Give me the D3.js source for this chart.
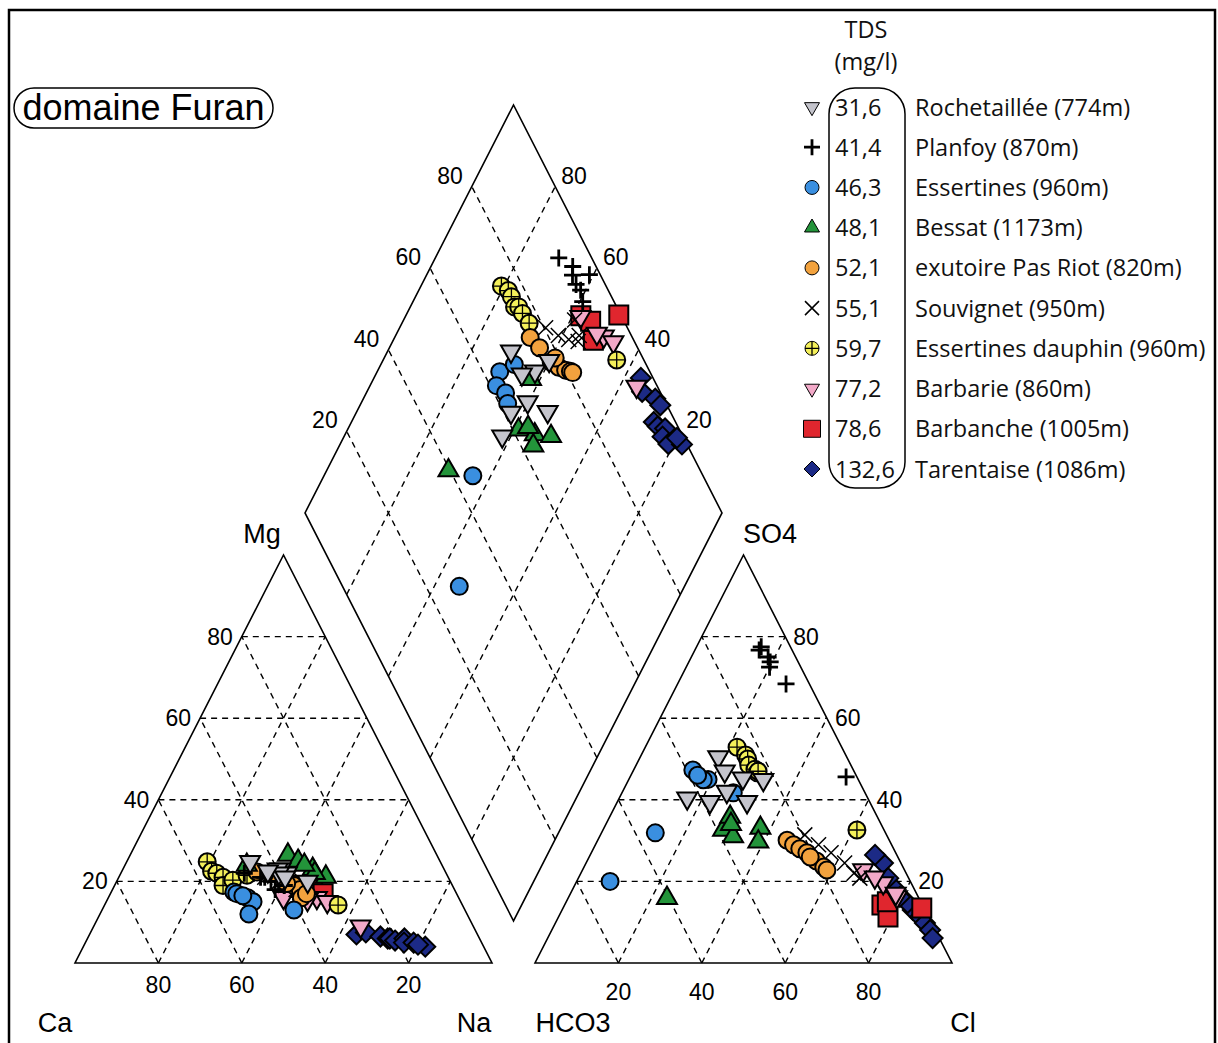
<!DOCTYPE html>
<html>
<head>
<meta charset="utf-8">
<script src="https://cdn.jsdelivr.net/npm/d3@7"></script>
<style>
  body { margin: 0; background: #fff; }
  svg { display: block; }
</style>
</head>
<body>
<svg id="chart" width="1218" height="1043"></svg>
<script>
// ---- Series (legend order) ----
const seriesNames = [
  "Rochetaillée (774m)", "Planfoy (870m)", "Essertines (960m)", "Bessat (1173m)",
  "exutoire Pas Riot (820m)", "Souvignet (950m)", "Essertines dauphin (960m)",
  "Barbarie (860m)", "Barbanche (1005m)", "Tarentaise (1086m)"
];
const tdsValues = ["31,6", "41,4", "46,3", "48,1", "52,1", "55,1", "59,7", "77,2", "78,6", "132,6"];
const symbolTypes = ["triangleDown", "plus", "circle", "triangle", "circle", "cross",
                     "crossCircle", "triangleDown", "square", "diamond"];
const fillColors = ["#c4c4cc", "none", "#3a8fe0", "#23943a", "#f2a23e", "none",
                    "#f4f05a", "#f2a9c8", "#e0262e", "#1c2a86"];

// ---- Samples: [Mg, Na, SO4, Cl] in % of meq (Ca = 100-Mg-Na, HCO3 = 100-SO4-Cl) ----
const rochetaillee = [
  [24.8, 29.6, 50.5, 18.7], [23, 37.8, 45.3, 27.2], [22, 39.8, 42, 25], [20, 45.8, 39.5, 31.1],
  [23, 37.1, 39.5, 22.2], [22, 37.9, 40.4, 16.3], [21, 39.9, 44.9, 32.3], [22.5, 35, 47, 22]
];
const planfoy = [
  [22, 29.6, 76.7, 15.4], [21, 35, 73.8, 19.5], [20, 38.8, 75, 18.4], [19, 40.7, 72.5, 20],
  [20, 37, 77.5, 15.5], [21, 34, 68.4, 26], [18, 39, 45.6, 51.8]
];
const essertines = [
  [17.4, 29.4, 45, 19], [17, 30.3, 47.3, 14.2], [16, 33.4, 44.9, 17.9], [15, 35.2, 46, 16],
  [16.5, 32, 41.7, 26.7], [12, 35.7, 31.9, 12.9], [13, 46, 20, 8]
];
const bessat = [
  [26.5, 37.8, 33.1, 37.5], [25, 41, 32.6, 28.8], [23, 45.5, 35.8, 28.9], [21.1, 49.6, 29.7, 38.7],
  [22, 46.5, 31, 32], [24, 43, 34, 30], [24, 29.2, 15.9, 23.7]
];
const pasRiot = [
  [22.3, 32.5, 30.1, 45.4], [22, 36, 29, 47.5], [20, 40.6, 28, 49.5], [19, 43, 27, 51.7],
  [18, 45, 25, 55], [16, 46.3, 23.5, 57.5], [17, 47, 22.8, 58.6], [19.5, 41, 26, 53]
];
const souvignet = [
  [21, 35, 31.4, 49], [20, 39, 29, 53.5], [19, 42, 27, 57.5], [20, 44.5, 24.5, 62],
  [18, 44, 22, 65.5], [19, 41, 20.8, 67.5]
];
const essertinesDauphin = [
  [24.8, 19.3, 52.9, 22], [22.5, 21.5, 51, 25], [22, 23, 50, 26], [21, 25, 48.5, 27],
  [19, 26, 47.5, 29], [20.3, 27.7, 46.6, 30], [21.5, 30.5, 47, 30], [14.2, 56, 32.6, 60.9]
];
const barbarie = [
  [16, 42, 22.8, 67.3], [16, 50, 19.6, 73.7], [15, 53, 16.2, 78.7], [15.5, 48, 21, 71], [9, 64, 17, 78]
];
const barbanche = [
  [19, 42, 14.2, 76.1], [18, 48, 11.3, 79], [17, 51, 13.5, 86], [18.5, 45, 15, 77]
];
const tarentaise = [
  [7, 64, 13, 84.1], [7.5, 66, 24.5, 71.2], [6.5, 70, 11.3, 86.7], [6, 72, 9.8, 88.6],
  [6, 72.5, 26.5, 68.3], [5.5, 74, 18.6, 76.6], [6, 76, 14.7, 82], [5, 76.4, 20.8, 74.3],
  [5, 78.7, 16.2, 79.4], [4, 82, 8.1, 90.7], [4.5, 80, 6.1, 92.3]
];
const seriesSamples = [rochetaillee, planfoy, essertines, bessat, pasRiot, souvignet,
                       essertinesDauphin, barbarie, barbanche, tarentaise];

// ---- Tick labels ----
const gridLevels = [20, 40, 60, 80];
const tickLabels = ["20", "40", "60", "80"];

// ---- Geometry ----
const side = 417, tall = 408, gap = 43, baseY = 963;
const catX0 = 75, anX0 = catX0 + side + gap;
const sx = d3.scaleLinear().domain([0, 100]).range([0, side]);
const sy = d3.scaleLinear().domain([0, 100]).range([0, tall]);
const dBottom = [catX0 + side + gap / 2, baseY - sy(0) - (gap / 2) * (tall / (side / 2))];

// Ternary projections
const catPt = (mg, na) => [catX0 + sx(na + mg / 2), baseY - sy(mg)];
const anPt = (so4, cl) => [anX0 + sx(cl + so4 / 2), baseY - sy(so4)];
const diaPt = (c, s) => [dBottom[0] + sx((s - c) / 2), dBottom[1] - sy(c + s)];

const svg = d3.select("#chart");
const FONT = "'Liberation Sans', Arial, sans-serif";
const LFONT = "'Open Sans', 'Noto Sans', sans-serif";

// frame
svg.append("rect").attr("x", 9).attr("y", 10).attr("width", 1206).attr("height", 1045)
  .attr("fill", "none").attr("stroke", "#000").attr("stroke-width", 2.5);

const grid = svg.append("g").attr("stroke", "#000").attr("stroke-width", 1.4)
  .attr("stroke-dasharray", "6,5").attr("fill", "none");
const line = d3.line();
function seg(a, b) { grid.append("path").attr("d", line([a, b])); }

// cation grid
gridLevels.forEach(v => {
  seg(catPt(v, 0), catPt(v, 100 - v));          // Mg
  seg(catPt(0, v), catPt(100 - v, v));          // Na
  seg(catPt(0, 100 - v), catPt(100 - v, 0));    // Ca
});
// anion grid
gridLevels.forEach(v => {
  seg(anPt(v, 0), anPt(v, 100 - v));            // SO4
  seg(anPt(0, v), anPt(100 - v, v));            // Cl
  seg(anPt(0, 100 - v), anPt(100 - v, 0));      // HCO3
});
// diamond grid
gridLevels.forEach(v => {
  seg(diaPt(v, 0), diaPt(v, 100));
  seg(diaPt(0, v), diaPt(100, v));
});

// outlines
const outline = svg.append("g").attr("stroke", "#000").attr("stroke-width", 1.6).attr("fill", "none");
outline.append("path").attr("d", line([catPt(0, 0), catPt(0, 100), catPt(100, 0)]) + "Z");
outline.append("path").attr("d", line([anPt(0, 0), anPt(0, 100), anPt(100, 0)]) + "Z");
outline.append("path").attr("d", line([diaPt(0, 0), diaPt(100, 0), diaPt(100, 100), diaPt(0, 100)]) + "Z");

// tick labels
const ticks = svg.append("g").attr("font-family", FONT).attr("font-size", 23).attr("fill", "#000");
gridLevels.forEach((v, i) => {
  const t = tickLabels[i];
  // Ca along cation base
  let p = catPt(0, 100 - v);
  ticks.append("text").attr("x", p[0]).attr("y", p[1] + 30).attr("text-anchor", "middle").text(t);
  // Mg along left side
  p = catPt(v, 0);
  ticks.append("text").attr("x", p[0] - 9).attr("y", p[1] + 8).attr("text-anchor", "end").text(t);
  // Cl along anion base
  p = anPt(0, v);
  ticks.append("text").attr("x", p[0]).attr("y", p[1] + 37).attr("text-anchor", "middle").text(t);
  // SO4 along right side
  p = anPt(v, 100 - v);
  ticks.append("text").attr("x", p[0] + 8).attr("y", p[1] + 8).attr("text-anchor", "start").text(t);
  // diamond upper-left (SO4+Cl)
  p = diaPt(100, v);
  ticks.append("text").attr("x", p[0] - 9).attr("y", p[1] - 3).attr("text-anchor", "end").text(t);
  // diamond upper-right (Ca+Mg)
  p = diaPt(v, 100);
  ticks.append("text").attr("x", p[0] + 6).attr("y", p[1] - 3).attr("text-anchor", "start").text(t);
});

// axis labels: [text, x, y]
const axisLabels = [
  ["Mg", 262, 543], ["SO4", 770, 543], ["Ca", 55, 1032], ["Na", 474, 1032],
  ["HCO3", 573, 1032], ["Cl", 963, 1032]
];
svg.append("g").attr("font-family", FONT).attr("font-size", 27).attr("text-anchor", "middle")
  .selectAll("text").data(axisLabels).join("text")
  .attr("x", d => d[1]).attr("y", d => d[2]).text(d => d[0]);

// ---- markers ----
function markerPath(type, k) {
  switch (type) {
    case "circle": case "crossCircle":
      return `M${k},0A${k},${k} 0 1,1 ${-k},0A${k},${k} 0 1,1 ${k},0Z`;
    case "triangle": { const h = k * 1.732; return `M0,${-h * 2 / 3}L${k},${h / 3}L${-k},${h / 3}Z`; }
    case "triangleDown": { const h = k * 1.732; return `M0,${h * 2 / 3}L${k},${-h / 3}L${-k},${-h / 3}Z`; }
    case "square": return `M${-k},${-k}H${k}V${k}H${-k}Z`;
    case "diamond": return `M0,${-k}L${k},0L0,${k}L${-k},0Z`;
    case "plus": return `M${-k},0H${k}M0,${-k}V${k}`;
    case "cross": return `M${-k},${-k}L${k},${k}M${-k},${k}L${k},${-k}`;
  }
}
const plotSize = { circle: 8.5, crossCircle: 8.5, triangle: 10, triangleDown: 10, square: 9.5, diamond: 10, plus: 8.5, cross: 7.5 };
const legendSize = { circle: 7, crossCircle: 7, triangle: 7.5, triangleDown: 7.5, square: 8.5, diamond: 8, plus: 8, cross: 7 };

function drawMarker(g, type, fill, x, y, sizes, sw) {
  const k = sizes[type];
  const m = g.append("g").attr("transform", `translate(${x},${y})`);
  if (type === "plus") {
    m.append("path").attr("d", markerPath(type, k)).attr("stroke", "#000").attr("stroke-width", 2.8).attr("fill", "none");
  } else if (type === "cross") {
    m.append("path").attr("d", markerPath(type, k)).attr("stroke", "#000").attr("stroke-width", 1.5).attr("fill", "none");
  } else {
    m.append("path").attr("d", markerPath(type, k)).attr("fill", fill).attr("stroke", "#000").attr("stroke-width", sw);
    if (type === "crossCircle") {
      m.append("path").attr("d", markerPath("plus", k)).attr("stroke", "#000").attr("stroke-width", 1.3).attr("fill", "none");
    }
  }
}

// series are plotted last-to-first so the first legend entries sit on top
const points = svg.append("g");
d3.range(seriesSamples.length).reverse().forEach(i => {
  const type = symbolTypes[i], fill = fillColors[i];
  seriesSamples[i].forEach(([mg, na, so4, cl]) => {
    const pc = catPt(mg, na);
    const pa = anPt(so4, cl);
    const pd = diaPt(100 - na, so4 + cl);
    [pc, pa, pd].forEach(p => drawMarker(points, type, fill, p[0], p[1], plotSize, 2));
  });
});

// ---- legend ----
const legend = svg.append("g").attr("font-family", LFONT).attr("font-size", 23.5).attr("fill", "#111");
legend.append("text").attr("x", 866).attr("y", 38).attr("text-anchor", "middle").text("TDS");
legend.append("text").attr("x", 866).attr("y", 70).attr("text-anchor", "middle").text("(mg/l)");
legend.append("rect").attr("x", 829).attr("y", 88).attr("width", 76).attr("height", 400)
  .attr("rx", 26).attr("ry", 26).attr("fill", "none").attr("stroke", "#000").attr("stroke-width", 1.5);
const rowY = d3.scaleLinear().domain([0, 9]).range([107, 469]);
seriesNames.forEach((name, i) => {
  const y = rowY(i);
  drawMarker(legend, symbolTypes[i], fillColors[i], 812, y, legendSize, 1);
  legend.append("text").attr("x", 835).attr("y", y + 8.5).text(tdsValues[i]);
  legend.append("text").attr("x", 915).attr("y", y + 8.5).text(name);
});

// ---- title box ----
svg.append("rect").attr("x", 14).attr("y", 88).attr("width", 259).attr("height", 40)
  .attr("rx", 20).attr("ry", 20).attr("fill", "none").attr("stroke", "#000").attr("stroke-width", 1.5);
svg.append("text").attr("x", 143.5).attr("y", 120).attr("text-anchor", "middle")
  .attr("font-family", FONT).attr("font-size", 36).text("domaine Furan");
</script>
</body>
</html>
